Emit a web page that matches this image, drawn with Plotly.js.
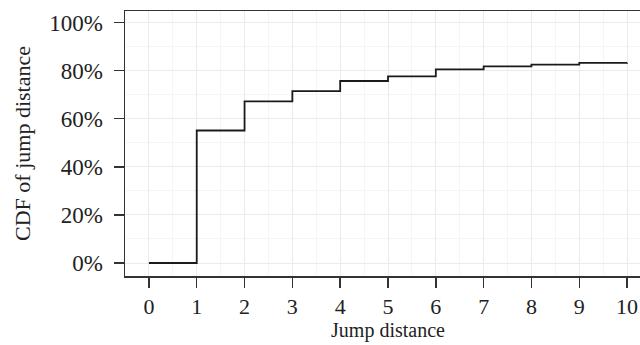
<!DOCTYPE html>
<html>
<head>
<meta charset="utf-8">
<script src="https://cdn.plot.ly/plotly-3.0.1.min.js"></script>
<style>
html,body{margin:0;padding:0;overflow:hidden;background:#fff;width:640px;height:345px;}
#chart{width:656px;height:345px;}
</style>
</head>
<body>
<div id="chart"></div>
<script>
const jumpDistance = [0, 1, 2, 3, 4, 5, 6, 7, 8, 9, 10];
const cdfValue = [0, 0.551, 0.672, 0.715, 0.757, 0.776, 0.805, 0.818, 0.825, 0.832, 0.833];
const xTickVals = [0, 1, 2, 3, 4, 5, 6, 7, 8, 9, 10];
const yTickVals = [0, 0.2, 0.4, 0.6, 0.8, 1.0];
const yTickText = ['0%', '20%', '40%', '60%', '80%', '100%'];

const font = 'Liberation Serif, Times New Roman, serif';
const textColor = '#222';

Plotly.newPlot('chart', [{
  x: jumpDistance,
  y: cdfValue,
  type: 'scatter',
  mode: 'lines',
  line: {shape: 'hv', color: '#1a1a1a', width: 1.8},
  hoverinfo: 'skip'
}], {
  width: 656,
  height: 345,
  margin: {l: 125, r: 5, t: 11, b: 69},
  paper_bgcolor: '#fff',
  plot_bgcolor: '#fff',
  showlegend: false,
  font: {family: font, color: textColor},
  xaxis: {
    range: [-0.5, 10.5],
    tickvals: xTickVals,
    ticktext: xTickVals.map(String),
    ticks: 'outside', ticklen: 10, tickwidth: 1.5, tickcolor: '#333',
    showline: true, linecolor: '#333', linewidth: 1.5, mirror: true,
    showgrid: true, gridcolor: '#ebebeb', gridwidth: 1,
    minor: {dtick: 0.5, tick0: 0.5, showgrid: true, gridcolor: '#f5f5f5', gridwidth: 1, ticks: ''},
    zeroline: false,
    tickfont: {family: font, size: 22, color: textColor},
    ticklabelstandoff: 0,
    title: {text: 'Jump distance', font: {family: font, size: 20, color: textColor}, standoff: 4}
  },
  yaxis: {
    range: [-0.054, 1.048],
    tickvals: yTickVals,
    ticktext: yTickText,
    ticks: 'outside', ticklen: 10, tickwidth: 1.5, tickcolor: '#333',
    showline: true, linecolor: '#333', linewidth: 1.5,
    showgrid: true, gridcolor: '#ebebeb', gridwidth: 1,
    minor: {dtick: 0.1, tick0: 0.1, showgrid: true, gridcolor: '#f5f5f5', gridwidth: 1, ticks: ''},
    zeroline: false,
    tickfont: {family: font, size: 23, color: textColor},
    ticklabelstandoff: 6,
    title: {text: 'CDF of jump distance', font: {family: font, size: 22, color: textColor}, standoff: 12}
  }
}, {displayModeBar: false, staticPlot: true});
</script>
</body>
</html>
